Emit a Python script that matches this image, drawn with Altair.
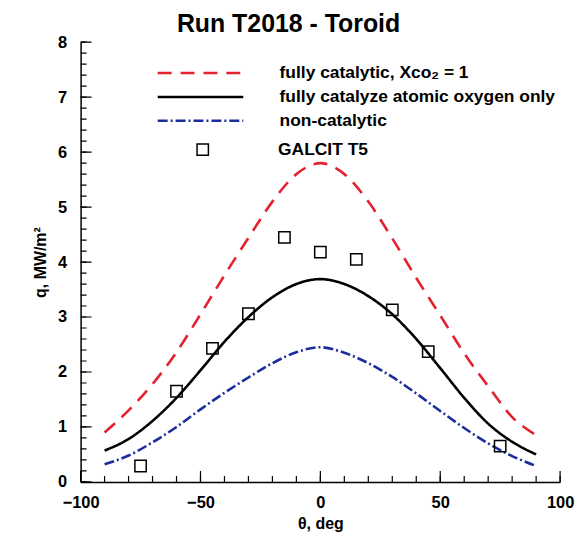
import altair as alt
import pandas as pd
import numpy as np

# ---- data ----
theta = [-90, -80, -70, -60, -50, -40, -30, -20, -10, 0, 10, 20, 30, 40, 50, 60, 70, 80, 90]
q_full_cat = [0.90, 1.30, 1.78, 2.36, 3.05, 3.76, 4.44, 5.10, 5.60, 5.80, 5.60, 5.10, 4.43, 3.71, 3.03, 2.34, 1.74, 1.18, 0.85]
q_oxygen = [0.57, 0.78, 1.11, 1.53, 2.03, 2.55, 3.00, 3.36, 3.60, 3.69, 3.60, 3.38, 3.05, 2.60, 2.07, 1.53, 1.06, 0.73, 0.50]
q_noncat = [0.32, 0.48, 0.72, 1.00, 1.32, 1.62, 1.90, 2.16, 2.36, 2.45, 2.35, 2.16, 1.91, 1.61, 1.29, 0.98, 0.70, 0.47, 0.29]

exp_theta = [-75, -60, -45, -30, -15, 0, 15, 30, 45, 75]
exp_q = [0.29, 1.65, 2.43, 3.06, 4.45, 4.18, 4.05, 3.13, 2.37, 0.65]

series_names = [
    "fully catalytic, X\u1d04\u1d0f\u2082 = 1",
    "fully catalyze atomic oxygen only",
    "non-catalytic",
]
series_colors = ["#e3222f", "#000000", "#1c2c9c"]
series_dashes = [[14, 9], [1, 0], [10, 3, 2, 3]]
exp_name = "GALCIT T5"
tick_name = "axis tick"

x_major = [-100, -50, 0, 50, 100]
x_minor = list(range(-100, 101, 10))
y_major = [0, 1, 2, 3, 4, 5, 6, 7, 8]
y_minor = [round(v, 1) for v in np.arange(0, 8.001, 0.2)]

X_MIN, X_MAX, Y_MIN, Y_MAX = -100, 100, 0, 8
W, H = 482, 442
MINOR_PX, MAJOR_PX = 6, 11
CURVE_W, TICK_W = 2.6, 1.2

ux = (X_MAX - X_MIN) / W   # data units per pixel
uy = (Y_MAX - Y_MIN) / H

# ---- tables ----
rows = []
for name, vals in zip(series_names, [q_full_cat, q_oxygen, q_noncat]):
    for t, v in zip(theta, vals):
        rows.append({"theta": t, "q": v, "series": name, "seg": name, "w": CURVE_W})

k = 0
for vals, px in [(x_minor, MINOR_PX), (x_major, MAJOR_PX)]:
    for v in vals:
        rows.append({"theta": v, "q": Y_MIN, "series": tick_name, "seg": f"t{k}", "w": TICK_W})
        rows.append({"theta": v, "q": Y_MIN + px * uy, "series": tick_name, "seg": f"t{k}", "w": TICK_W})
        k += 1
for vals, px in [(y_minor, MINOR_PX), (y_major, MAJOR_PX)]:
    for v in vals:
        rows.append({"theta": X_MIN, "q": v, "series": tick_name, "seg": f"t{k}", "w": TICK_W})
        rows.append({"theta": X_MIN + px * ux, "q": v, "series": tick_name, "seg": f"t{k}", "w": TICK_W})
        k += 1
curves = pd.DataFrame(rows)
exp = pd.DataFrame({"theta": exp_theta, "q": exp_q, "src": [exp_name] * len(exp_theta)})

FONT = "Liberation Sans"
xscale = alt.Scale(domain=[X_MIN, X_MAX], nice=False, zero=False)
yscale = alt.Scale(domain=[Y_MIN, Y_MAX], nice=False, zero=False)

xaxis = alt.Axis(values=x_major, ticks=False, tickSize=0, labelPadding=13,
                 labelFlush=False, title="\u03b8, deg", titlePadding=4,
                 domain=True, domainColor="black", domainWidth=1.5, grid=False)
yaxis = alt.Axis(values=y_major, ticks=False, tickSize=0, labelPadding=14,
                 labelFlush=False, title="q, MW/m\u00b2", titlePadding=9,
                 domain=True, domainColor="black", domainWidth=1.5, grid=False)

line_legend = alt.Legend(
    title=None, orient="none", legendX=76, legendY=19, padding=0, values=series_names,
    symbolType="stroke", symbolSize=7396, symbolStrokeWidth=2.6,
    clipHeight=24, rowPadding=0, labelOffset=35,
    labelFont=FONT, labelFontSize=17.5, labelFontWeight="bold", labelColor="black",
    labelLimit=400,
)

lines = alt.Chart(curves).mark_line(interpolate="monotone").encode(
    x=alt.X("theta:Q", scale=xscale, axis=xaxis),
    y=alt.Y("q:Q", scale=yscale, axis=yaxis),
    detail="seg:N",
    strokeWidth=alt.StrokeWidth("w:Q", scale=None, legend=None),
    color=alt.Color("series:N",
                    scale=alt.Scale(domain=series_names + [tick_name], range=series_colors + ["#000000"]),
                    legend=line_legend),
    strokeDash=alt.StrokeDash("series:N",
                              scale=alt.Scale(domain=series_names + [tick_name], range=series_dashes + [[1, 0]]),
                              legend=line_legend),
)

points = alt.Chart(exp).mark_point(shape="square", filled=False, size=130, strokeWidth=1.5,
                                   color="black", opacity=1).encode(
    x=alt.X("theta:Q", scale=xscale, axis=xaxis),
    y=alt.Y("q:Q", scale=yscale, axis=yaxis),
    shape=alt.Shape("src:N", scale=alt.Scale(domain=[exp_name], range=["square"]),
                    legend=alt.Legend(title=None, orient="none", legendX=114, legendY=96, padding=0,
                                      symbolSize=130, symbolStrokeWidth=1.5, symbolStrokeColor="black",
                                      symbolFillColor="transparent", clipHeight=24, labelOffset=67,
                                      labelFont=FONT, labelFontSize=17.5, labelFontWeight="bold",
                                      labelColor="black")),
)

chart = alt.layer(lines, points).properties(
    width=W, height=H,
    padding={"left": 24, "top": 3, "right": 5, "bottom": 5},
    title=alt.TitleParams("Run T2018 - Toroid", font=FONT, fontSize=25, fontWeight="bold",
                          color="black", anchor="middle", dx=-32, offset=-3),
).configure_view(stroke=None).configure_axis(
    labelFont=FONT, labelFontSize=16.5, labelFontWeight="bold", labelColor="black",
    titleFont=FONT, titleFontSize=16, titleFontWeight="bold", titleColor="black",
)

chart.save("out.html", embed_options={"renderer": "svg", "actions": False})
